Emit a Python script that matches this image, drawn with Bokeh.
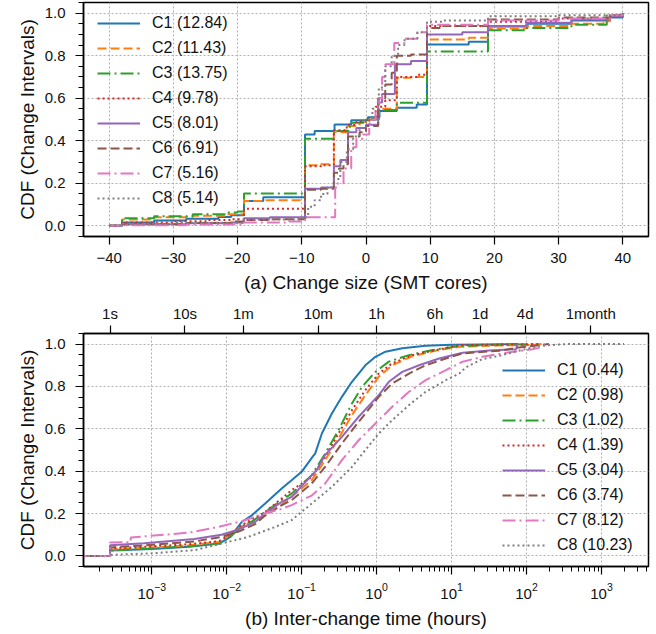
import numpy as np
from bokeh.plotting import figure
from bokeh.layouts import column
from bokeh.models import (Range1d, FixedTicker, LogAxis, Legend, LegendItem,
                          PrintfTickFormatter, LogTickFormatter)
from bokeh.embed import file_html
from bokeh.resources import INLINE

# ---------------- data ----------------
names = ["C1", "C2", "C3", "C4", "C5", "C6", "C7", "C8"]
size_means = [12.84, 11.43, 13.75, 9.78, 8.01, 6.91, 5.16, 5.14]
time_means = [0.44, 0.98, 1.02, 1.39, 3.04, 3.74, 8.12, 10.23]
colors = ["#1f77b4", "#ff7f0e", "#2ca02c", "#d62728",
          "#9467bd", "#8c564b", "#e377c2", "#7f7f7f"]
dashes = ["solid", "9 4", "13 4 2 4", "2 3", "solid", "9 4", "13 4 2 4", "2 3"]

# (a) change size CDF (step functions): x = SMT cores, y = CDF
c1_size_x = [-40, -38, -33, -28, -23, -21, -19, -16, -9.5, -8, -4.9, -2.3, 0.3, 2.1, 4.8, 7.9, 9.5, 16, 19, 25, 32, 38, 40]
c1_size_y = [0, 0.016, 0.025, 0.033, 0.042, 0.05, 0.117, 0.135, 0.43, 0.446, 0.477, 0.496, 0.51, 0.54, 0.555, 0.571, 0.853, 0.866, 0.937, 0.95, 0.965, 0.98, 1.0]
c2_size_x = [-40, -38, -33, -27, -22, -19, -16, -9.5, -7, -5, -3, -1, 0.5, 2, 4.8, 7, 9.5, 16, 19, 25, 32, 37, 38, 40]
c2_size_y = [0, 0.03, 0.04, 0.048, 0.055, 0.117, 0.12, 0.285, 0.29, 0.44, 0.47, 0.49, 0.5, 0.55, 0.696, 0.7, 0.876, 0.884, 0.928, 0.94, 0.95, 0.962, 0.99, 1.0]
c3_size_x = [-40, -38, -33, -27, -22, -20, -19, -9.5, -5, -2.5, 0, 2, 4.8, 9.5, 19, 25, 32, 37.5, 40]
c3_size_y = [0, 0.036, 0.045, 0.055, 0.063, 0.067, 0.152, 0.41, 0.446, 0.485, 0.5, 0.545, 0.579, 0.82, 0.919, 0.93, 0.945, 0.99, 1.0]
c4_size_x = [-40, -38, -30, -25, -21, -19, -9.5, -7, -5, -3, -1.5, 0.5, 1.5, 3, 4.8, 8, 9.5, 19, 30, 38, 40]
c4_size_y = [0, 0.016, 0.022, 0.027, 0.031, 0.081, 0.28, 0.285, 0.45, 0.475, 0.49, 0.5, 0.56, 0.59, 0.70, 0.71, 0.94, 0.96, 0.975, 0.99, 1.0]
c5_size_x = [-40, -38, -28, -21, -19, -15, -9.5, -7, -5, -4, -2.8, -1.5, 0, 1.9, 2.5, 4.5, 7, 9.5, 15, 19, 25, 32, 38, 40]
c5_size_y = [0, 0.008, 0.012, 0.016, 0.036, 0.04, 0.175, 0.18, 0.28, 0.31, 0.44, 0.46, 0.475, 0.58, 0.62, 0.76, 0.775, 0.9, 0.91, 0.94, 0.955, 0.97, 0.985, 1.0]
c6_size_x = [-40, -38, -28, -21, -19, -15, -9.5, -7, -5, -4.2, -3.5, -2.8, -1, 0, 1.9, 3, 4, 4.8, 7, 9.5, 12, 19, 30, 38, 40]
c6_size_y = [0, 0.008, 0.014, 0.02, 0.027, 0.031, 0.17, 0.175, 0.25, 0.27, 0.29, 0.42, 0.44, 0.47, 0.6, 0.665, 0.72, 0.8, 0.806, 0.93, 0.94, 0.97, 0.98, 0.99, 1.0]
c7_size_x = [-40, -38, -28, -21, -19, -12, -9.5, -4.8, -4.4, -3.5, -2.3, -1.5, -0.5, 0.5, 1, 1.5, 2, 2.5, 3, 4.4, 6, 8, 9.5, 19, 30, 38, 40]
c7_size_y = [0, 0.003, 0.006, 0.008, 0.016, 0.02, 0.04, 0.18, 0.2, 0.27, 0.37, 0.41, 0.43, 0.48, 0.5, 0.55, 0.6, 0.7, 0.76, 0.86, 0.88, 0.91, 0.945, 0.965, 0.975, 0.99, 1.0]
c8_size_x = [-40, -38, -30, -19, -10, -9, -8, -7, -6, -5, -4, -3, -2, -1, 0, 1, 2, 3, 4, 5, 6, 8, 9.5, 12, 19, 30, 40]
c8_size_y = [0, 0.01, 0.015, 0.03, 0.04, 0.09, 0.12, 0.15, 0.18, 0.22, 0.3, 0.36, 0.42, 0.46, 0.5, 0.55, 0.65, 0.75, 0.8, 0.85, 0.88, 0.91, 0.96, 0.965, 0.985, 0.99, 1.0]

# (b) inter-change time CDF: x = log10(hours), y = CDF
c1_time_lx = [-4.0, -3.556, -3.556, -3.0, -2.5, -2.1, -1.95, -1.8, -1.67, -1.49, -1.27, -1.134, -1.0, -0.85, -0.82, -0.73, -0.597, -0.463, -0.329, -0.15, -0.016, 0.119, 0.342, 0.655, 1.0, 1.88]
c1_time_y = [0, 0, 0.025, 0.033, 0.043, 0.058, 0.09, 0.16, 0.19, 0.246, 0.317, 0.357, 0.397, 0.47, 0.483, 0.578, 0.672, 0.751, 0.822, 0.9, 0.94, 0.964, 0.98, 0.992, 0.997, 1.0]
c2_time_lx = [-4.0, -3.556, -3.556, -3.0, -2.5, -2.1, -1.95, -1.8, -1.49, -1.27, -1.134, -0.866, -0.687, -0.508, -0.329, -0.15, 0.029, 0.208, 0.476, 0.834, 1.1, 1.6, 2.08, 2.2]
c2_time_y = [0, 0, 0.03, 0.04, 0.05, 0.066, 0.1, 0.14, 0.19, 0.24, 0.279, 0.357, 0.452, 0.554, 0.665, 0.759, 0.846, 0.9, 0.943, 0.972, 0.987, 0.993, 0.996, 1.0]
c3_time_lx = [-4.0, -3.556, -3.556, -3.0, -2.5, -2.1, -1.95, -1.8, -1.67, -1.49, -1.27, -1.134, -0.866, -0.687, -0.508, -0.329, -0.195, -0.016, 0.163, 0.432, 0.745, 1.1, 1.6, 2.08]
c3_time_y = [0, 0, 0.025, 0.035, 0.045, 0.058, 0.09, 0.14, 0.16, 0.207, 0.262, 0.294, 0.381, 0.483, 0.594, 0.72, 0.798, 0.869, 0.917, 0.948, 0.972, 0.991, 0.997, 1.0]
c4_time_lx = [-4.0, -3.556, -3.556, -3.0, -2.5, -2.1, -1.95, -1.8, -1.49, -1.27, -1.134, -0.866, -0.687, -0.508, -0.329, -0.15, 0.029, 0.208, 0.476, 0.834, 1.1, 2.17]
c4_time_y = [0, 0, 0.035, 0.045, 0.055, 0.07, 0.1, 0.145, 0.207, 0.27, 0.31, 0.373, 0.468, 0.578, 0.688, 0.783, 0.861, 0.909, 0.948, 0.975, 0.995, 1.0]
c5_time_lx = [-4.0, -3.556, -3.556, -3.1, -2.43, -2.07, -1.84, -1.62, -1.49, -1.27, -1.134, -0.8, -0.687, -0.463, -0.239, 0.029, 0.163, 0.342, 0.566, 0.834, 1.148, 1.5, 1.86, 1.88]
c5_time_y = [0, 0, 0.05, 0.06, 0.08, 0.1, 0.125, 0.16, 0.2, 0.254, 0.279, 0.405, 0.476, 0.562, 0.657, 0.759, 0.822, 0.869, 0.9, 0.932, 0.959, 0.97, 0.976, 1.0]
c6_time_lx = [-4.0, -3.556, -3.556, -3.1, -2.43, -2.07, -1.84, -1.62, -1.49, -1.27, -1.134, -0.866, -0.687, -0.463, -0.239, 0.029, 0.208, 0.432, 0.655, 0.924, 1.148, 1.64, 1.9, 2.17, 2.3]
c6_time_y = [0, 0, 0.04, 0.05, 0.068, 0.09, 0.115, 0.15, 0.19, 0.239, 0.263, 0.342, 0.42, 0.531, 0.633, 0.751, 0.814, 0.861, 0.9, 0.932, 0.956, 0.969, 0.984, 0.995, 1.0]
c7_time_lx = [-4.0, -3.556, -3.556, -3.28, -3.28, -2.5, -2.11, -1.79, -1.49, -1.27, -1.134, -0.866, -0.687, -0.463, -0.239, -0.016, 0.208, 0.432, 0.655, 0.924, 1.148, 1.41, 1.77, 2.08, 2.2, 2.26]
c7_time_y = [0, 0, 0.063, 0.065, 0.087, 0.11, 0.137, 0.165, 0.2, 0.222, 0.24, 0.285, 0.342, 0.452, 0.546, 0.625, 0.704, 0.775, 0.83, 0.877, 0.917, 0.94, 0.961, 0.976, 0.985, 1.0]
c8_time_lx = [-4.0, -3.556, -3.556, -3.0, -2.43, -2.07, -1.71, -1.35, -1.134, -0.866, -0.597, -0.329, -0.15, 0.029, 0.208, 0.432, 0.655, 0.924, 1.103, 1.19, 1.41, 1.64, 1.9, 2.17, 2.53, 3.3]
c8_time_y = [0, 0, 0.005, 0.012, 0.027, 0.058, 0.09, 0.137, 0.169, 0.247, 0.326, 0.42, 0.5, 0.578, 0.641, 0.712, 0.775, 0.83, 0.861, 0.89, 0.929, 0.945, 0.969, 0.992, 1.0, 1.0]

size_x = [c1_size_x, c2_size_x, c3_size_x, c4_size_x, c5_size_x, c6_size_x, c7_size_x, c8_size_x]
size_y = [c1_size_y, c2_size_y, c3_size_y, c4_size_y, c5_size_y, c6_size_y, c7_size_y, c8_size_y]
time_lx = [c1_time_lx, c2_time_lx, c3_time_lx, c4_time_lx, c5_time_lx, c6_time_lx, c7_time_lx, c8_time_lx]
time_y = [c1_time_y, c2_time_y, c3_time_y, c4_time_y, c5_time_y, c6_time_y, c7_time_y, c8_time_y]

size_ticks = [-40, -30, -20, -10, 0, 10, 20, 30, 40]
cdf_ticks = [0.0, 0.2, 0.4, 0.6, 0.8, 1.0]
hour_ticks = [1e-3, 1e-2, 1e-1, 1e0, 1e1, 1e2, 1e3]
dur_ticks = [1 / 3600, 10 / 3600, 1 / 60, 10 / 60, 1.0, 6.0, 24.0, 96.0, 720.0]
dur_labels = ["1s", "10s", "1m", "10m", "1h", "6h", "1d", "4d", "1month"]

FONT = "Liberation Sans"
TICK_FS = "15px"
LAB_FS = "19px"
LEG_FS = "16px"
TXT = "#111111"


def style_axis(ax, standoff=8):
    ax.axis_line_color = "black"
    ax.axis_line_width = 1.5
    ax.major_tick_line_color = "black"
    ax.minor_tick_line_color = "black"
    ax.major_tick_line_width = 1.2
    ax.minor_tick_line_width = 1.0
    ax.major_tick_in = 0
    ax.major_tick_out = 8
    ax.minor_tick_in = 0
    ax.minor_tick_out = 5
    ax.major_label_text_font = FONT
    ax.major_label_text_font_size = TICK_FS
    ax.major_label_text_color = TXT
    ax.major_label_standoff = standoff
    ax.axis_label_text_font = FONT
    ax.axis_label_text_font_size = LAB_FS
    ax.axis_label_text_font_style = "normal"
    ax.axis_label_text_color = TXT


def style_fig(p):
    p.outline_line_color = "black"
    p.outline_line_width = 1.5
    p.outline_line_alpha = 1.0
    for g in (p.xgrid[0], p.ygrid[0]):
        g.grid_line_color = "#b0b0b0"
        g.grid_line_dash = "2 2"
        g.grid_line_width = 1
    p.background_fill_color = "white"
    p.border_fill_color = "white"


def make_legend(items, loc):
    leg = Legend(items=items, location=loc)
    leg.label_text_font = FONT
    leg.label_text_font_size = LEG_FS
    leg.label_text_color = TXT
    leg.glyph_width = 43
    leg.glyph_height = 20
    leg.label_height = 20
    leg.spacing = 5
    leg.padding = 6
    leg.margin = 0
    leg.label_standoff = 12
    leg.border_line_alpha = 0
    leg.background_fill_alpha = 0
    return leg


# ---------------- (a) change size ----------------
p1 = figure(width=650, height=300, x_range=Range1d(-44, 44), y_range=Range1d(-0.05, 1.05),
            output_backend="svg", toolbar_location=None,
            min_border_left=83, min_border_right=2, min_border_top=2, min_border_bottom=64)
style_fig(p1)
items1 = []
for i in range(8):
    r = p1.step(size_x[i], size_y[i], mode="after", line_color=colors[i], line_width=2,
                line_dash=dashes[i])
    items1.append(LegendItem(label=f"{names[i]} ({size_means[i]:.2f})", renderers=[r]))
p1.add_layout(make_legend(items1, (8, 22)))

xa = p1.xaxis[0]
style_axis(xa, 8)
xa.ticker = FixedTicker(ticks=size_ticks)
xa.major_label_overrides = {t: (f"\u2212{abs(t)}" if t < 0 else str(t)) for t in size_ticks}
xa.axis_label = "(a) Change size (SMT cores)"
xa.axis_label_standoff = 6
ya = p1.yaxis[0]
style_axis(ya, 10)
ya.ticker = FixedTicker(ticks=cdf_ticks, minor_ticks=[k * 0.05 for k in range(-1, 22) if k % 4 != 0])
ya.formatter = PrintfTickFormatter(format="%.1f")
ya.axis_label = "CDF (Change Intervals)"
ya.axis_label_standoff = 4

# ---------------- (b) inter-change time ----------------
p2 = figure(width=650, height=332, x_axis_type="log",
            x_range=Range1d(10 ** -3.91, 10 ** 3.627), y_range=Range1d(-0.05, 1.05),
            output_backend="svg", toolbar_location=None,
            min_border_left=83, min_border_right=2, min_border_top=33, min_border_bottom=66)
style_fig(p2)
items2 = []
for i in range(8):
    hours = [10 ** v for v in time_lx[i]]
    r = p2.line(hours, time_y[i], line_color=colors[i], line_width=2, line_dash=dashes[i])
    items2.append(LegendItem(label=f"{names[i]} ({time_means[i]:.2f})", renderers=[r]))
p2.add_layout(make_legend(items2, (413, 5)))

xb = p2.below[0]
style_axis(xb, 8)
minor = [k * 10.0 ** e for e in range(-4, 4) for k in range(2, 10)]
xb.ticker = FixedTicker(ticks=hour_ticks, minor_ticks=minor)
xb.formatter = LogTickFormatter()
xb.axis_label = "(b) Inter-change time (hours)"
xb.axis_label_standoff = 6
yb = p2.yaxis[0]
style_axis(yb, 10)
yb.ticker = FixedTicker(ticks=cdf_ticks, minor_ticks=[k * 0.05 for k in range(-1, 22) if k % 4 != 0])
yb.formatter = PrintfTickFormatter(format="%.1f")
yb.axis_label = "CDF (Change Intervals)"
yb.axis_label_standoff = 4

top = LogAxis(ticker=FixedTicker(ticks=dur_ticks))
style_axis(top, 4)
top.major_label_overrides = dict(zip(dur_ticks, dur_labels))
p2.add_layout(top, "above")

layout = column(p1, p2, spacing=0)
open("out.html", "w").write(file_html(layout, INLINE))
